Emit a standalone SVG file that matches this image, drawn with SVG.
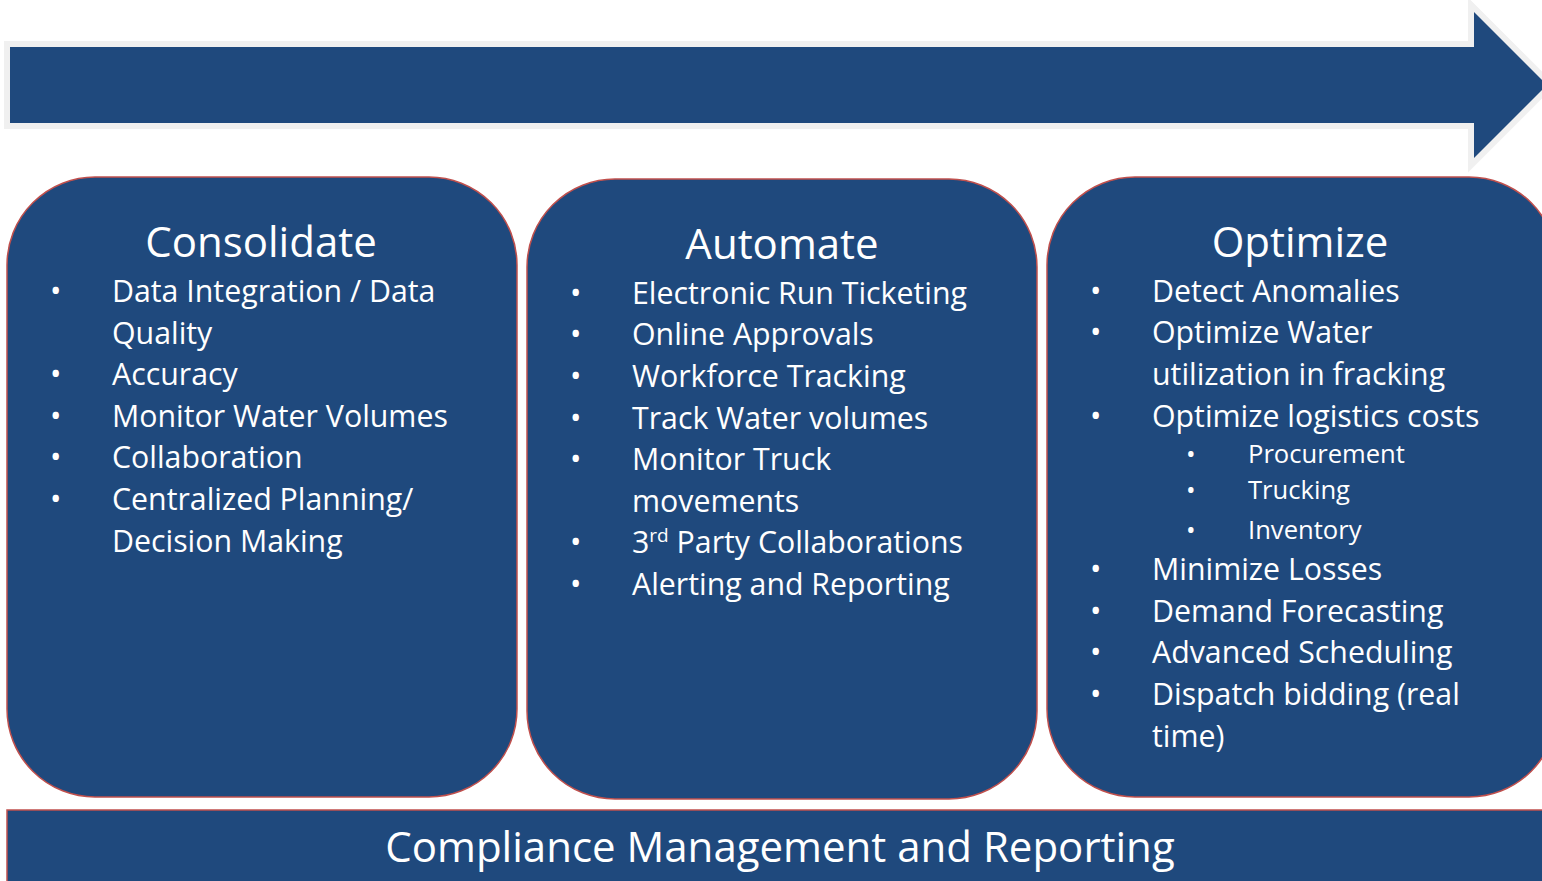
<svg xmlns="http://www.w3.org/2000/svg" width="1542" height="881" viewBox="0 0 1542 881">
<style>
.box{fill:#1f497d;stroke:#c0504d;stroke-width:1.5}
.t{fill:#ffffff;font-family:"Open Sans","Liberation Sans",sans-serif}
.title{font-size:42px;text-anchor:middle}
.b{font-size:30.3px}
.s{font-size:25.6px}
.foot{font-size:42px;text-anchor:middle}
</style>
<rect width="1542" height="881" fill="#ffffff"/>
<g id="arrow">
<polygon points="10,47 1474,47 1474,12 1547,85 1474,158 1474,123 10,123" fill="#1f497d" stroke="#f0f0f0" stroke-width="12" stroke-linejoin="miter" paint-order="stroke"/>
</g>
<g id="consolidate">
<rect class="box" x="7" y="177" width="510" height="620" rx="88" ry="88"/>
<text class="t title" x="261" y="257">Consolidate</text>
<g class="t b">
<text x="50" y="302">•</text><text x="112" y="302">Data Integration / Data</text>
<text x="112" y="344">Quality</text>
<text x="50" y="385">•</text><text x="112" y="385">Accuracy</text>
<text x="50" y="427">•</text><text x="112" y="427">Monitor Water Volumes</text>
<text x="50" y="468">•</text><text x="112" y="468">Collaboration</text>
<text x="50" y="510">•</text><text x="112" y="510">Centralized Planning/</text>
<text x="112" y="552">Decision Making</text>
</g>
</g>
<g id="automate">
<rect class="box" x="527" y="179" width="510" height="620" rx="88" ry="88"/>
<text class="t title" x="782" y="259">Automate</text>
<g class="t b">
<text x="570" y="304">•</text><text x="632" y="304">Electronic Run Ticketing</text>
<text x="570" y="345">•</text><text x="632" y="345">Online Approvals</text>
<text x="570" y="387">•</text><text x="632" y="387">Workforce Tracking</text>
<text x="570" y="429">•</text><text x="632" y="429">Track Water volumes</text>
<text x="570" y="470">•</text><text x="632" y="470">Monitor Truck</text>
<text x="632" y="512">movements</text>
<text x="570" y="553">•</text><text x="632" y="553">3<tspan font-size="19" dy="-11">rd</tspan><tspan dy="11"> Party Collaborations</tspan></text>
<text x="570" y="595">•</text><text x="632" y="595">Alerting and Reporting</text>
</g>
</g>
<g id="optimize">
<rect class="box" x="1047" y="177" width="510" height="620" rx="88" ry="88"/>
<text class="t title" x="1300" y="257">Optimize</text>
<g class="t b">
<text x="1090" y="302">•</text><text x="1152" y="302">Detect Anomalies</text>
<text x="1090" y="343">•</text><text x="1152" y="343">Optimize Water</text>
<text x="1152" y="385">utilization in fracking</text>
<text x="1090" y="427">•</text><text x="1152" y="427">Optimize logistics costs</text>
<text x="1090" y="580">•</text><text x="1152" y="580">Minimize Losses</text>
<text x="1090" y="622">•</text><text x="1152" y="622">Demand Forecasting</text>
<text x="1090" y="663">•</text><text x="1152" y="663">Advanced Scheduling</text>
<text x="1090" y="705">•</text><text x="1152" y="705">Dispatch bidding (real</text>
<text x="1152" y="747">time)</text>
</g>
<g class="t s">
<text x="1186" y="463">•</text><text x="1248" y="463">Procurement</text>
<text x="1186" y="499">•</text><text x="1248" y="499">Trucking</text>
<text x="1186" y="539">•</text><text x="1248" y="539">Inventory</text>
</g>
</g>
<g id="compliance">
<rect class="box" x="7" y="810" width="1560" height="100"/>
<text class="t foot" x="780" y="862">Compliance Management and Reporting</text>
</g>
<g id="connectors"></g>
</svg>
